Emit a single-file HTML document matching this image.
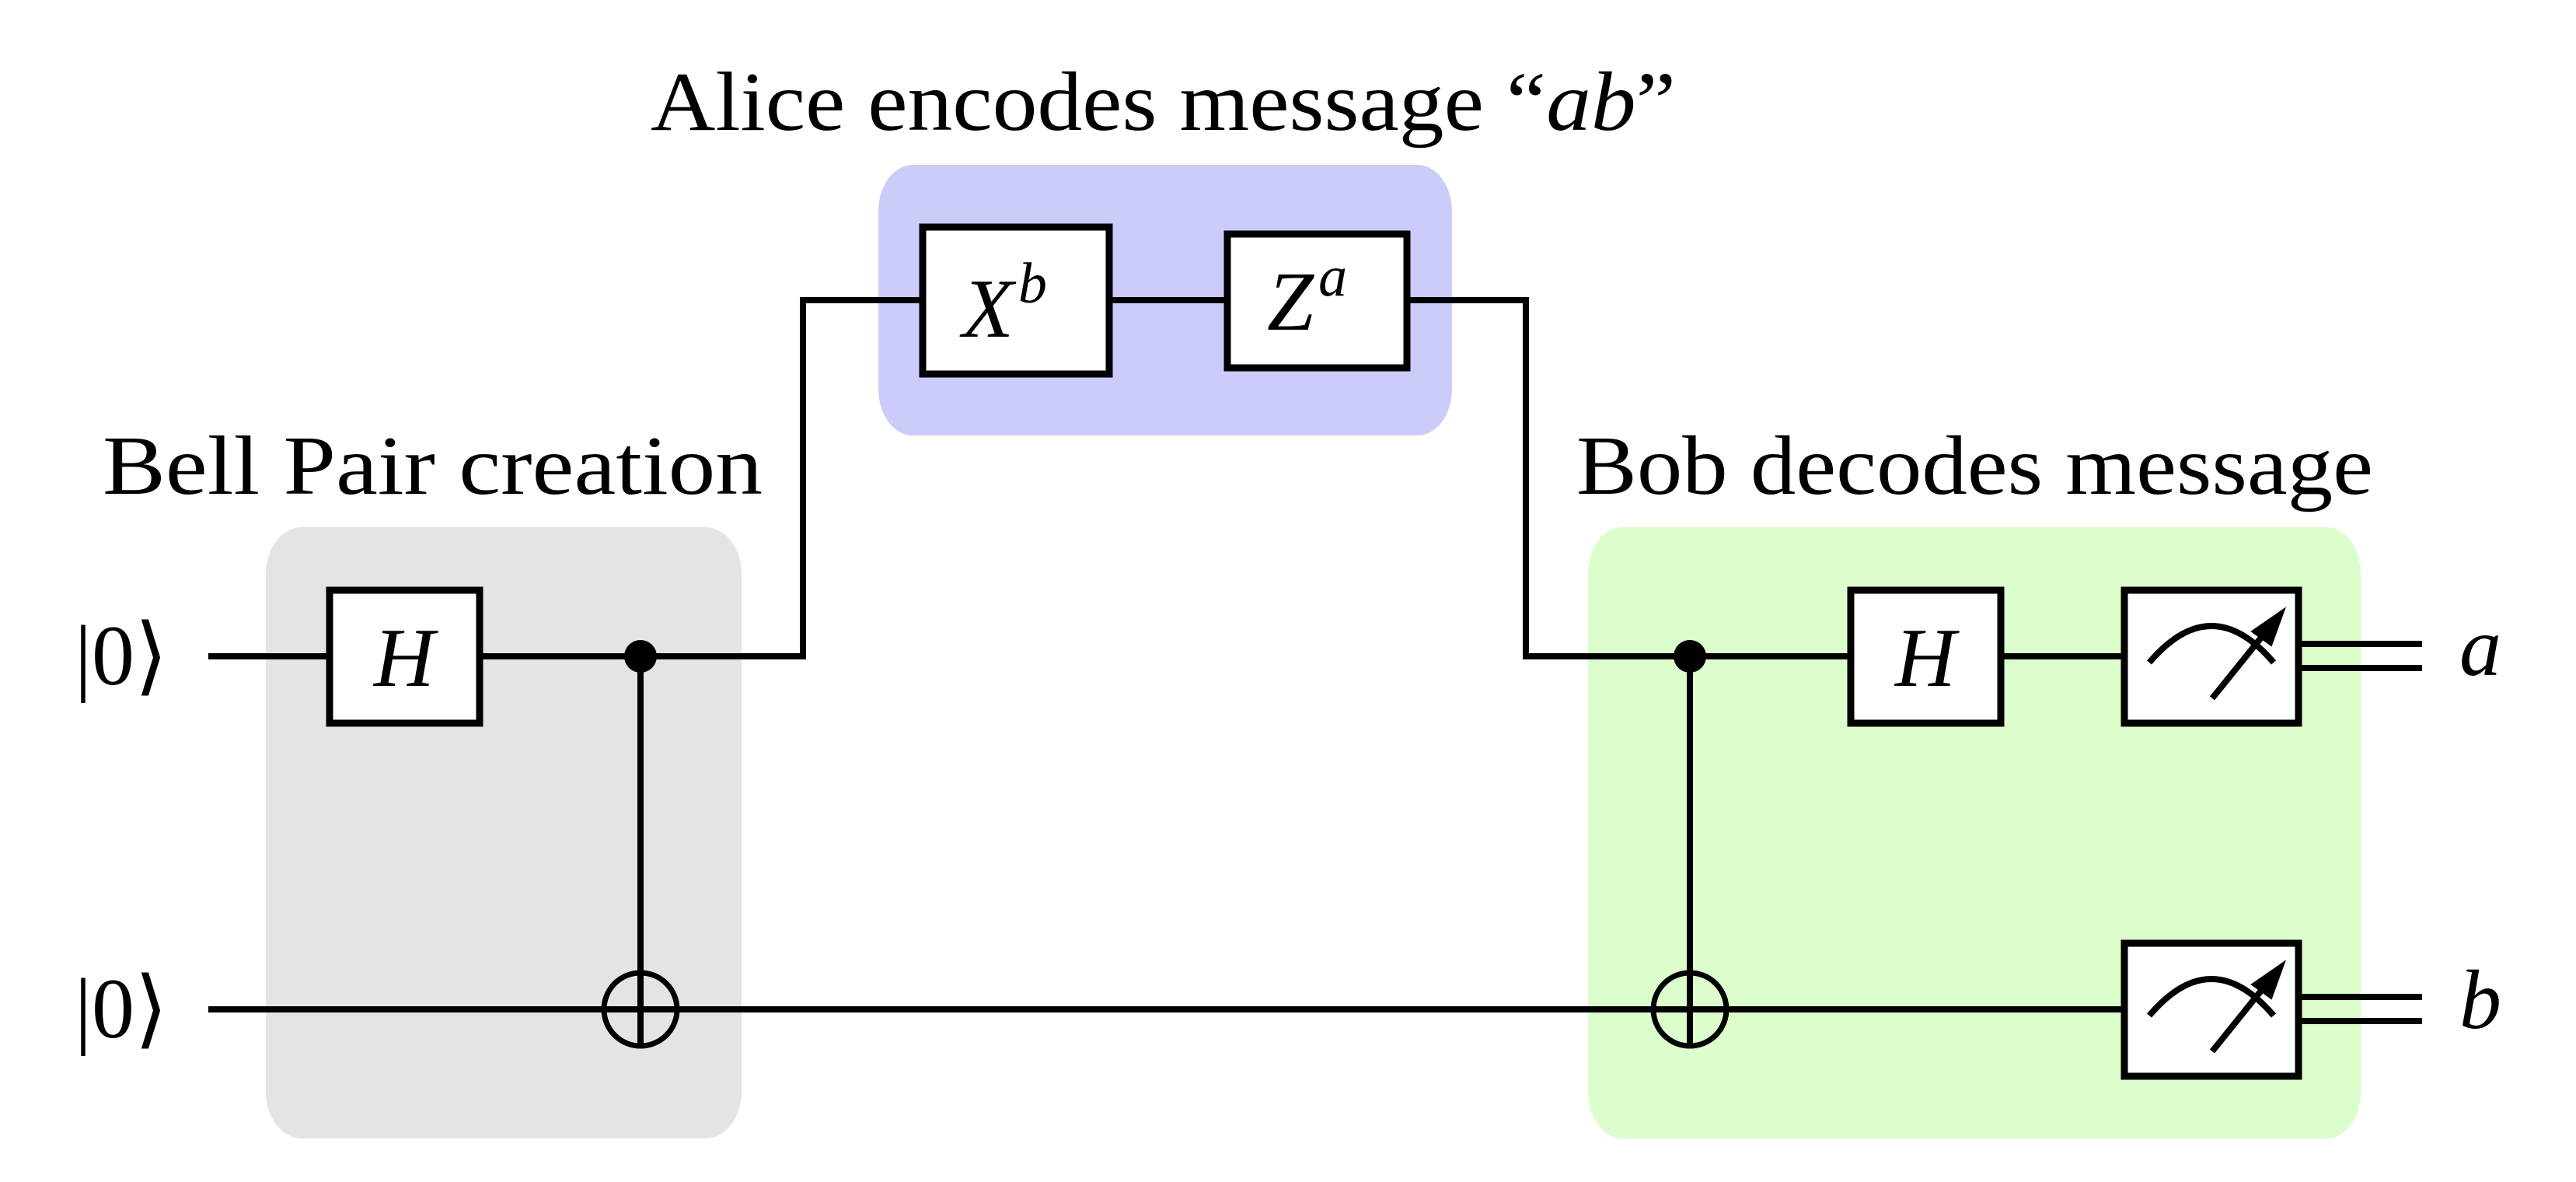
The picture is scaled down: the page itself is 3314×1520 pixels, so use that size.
<!DOCTYPE html>
<html><head><meta charset="utf-8"><style>
html,body{margin:0;padding:0;background:#fff}
svg{display:block}
text{font-family:"Liberation Serif",serif;fill:#000}
</style></head><body>
<svg width="3314" height="1520" viewBox="0 0 3314 1520" xmlns="http://www.w3.org/2000/svg">
<rect x="342" y="678" width="612" height="786" rx="46" ry="60" fill="#e4e4e4"/>
<rect x="1130" y="212" width="738" height="348" rx="44" ry="60" fill="#ccccfb"/>
<rect x="2043" y="678" width="994" height="786" rx="44" ry="60" fill="#dcfdcc"/>

<text x="837" y="167" font-size="108" textLength="1319" lengthAdjust="spacingAndGlyphs">Alice encodes message “<tspan font-style="italic">ab</tspan>”</text>
<text x="132" y="635" font-size="108" textLength="849" lengthAdjust="spacingAndGlyphs">Bell Pair creation</text>
<text x="2028" y="635" font-size="108" textLength="1025" lengthAdjust="spacingAndGlyphs">Bob decodes message</text>

<g stroke="#000" stroke-width="8" fill="none">
<path d="M268 844 H1033 V386 H1963 V844 H2733"/>
<path d="M268 1298 H2733"/>
<line x1="824" y1="844" x2="824" y2="1348"/>
<line x1="2174" y1="844" x2="2174" y2="1348"/>
<path d="M2957 828 H3116 M2957 859 H3116"/>
<path d="M2957 1282 H3116 M2957 1313 H3116"/>
</g>

<text x="96" y="880" font-size="110">|0⟩</text>
<text x="96" y="1334" font-size="110">|0⟩</text>

<g stroke="#000" stroke-width="9" fill="#fff">
<rect x="424" y="759" width="193" height="171"/>
<rect x="1187" y="292" width="240" height="189"/>
<rect x="1579" y="301" width="231" height="172"/>
<rect x="2381" y="759" width="193" height="171"/>
<rect x="2733" y="759" width="224" height="171"/>
<rect x="2733" y="1213" width="224" height="171"/>
</g>

<text x="520" y="882" font-size="108" font-style="italic" text-anchor="middle">H</text>
<text x="2477" y="882" font-size="108" font-style="italic" text-anchor="middle">H</text>
<text x="1238" y="433" font-size="108" font-style="italic">X<tspan dx="6" dy="-44" font-size="74">b</tspan></text>
<text x="1630" y="424" font-size="108" font-style="italic">Z<tspan dx="6" dy="-44" font-size="74">a</tspan></text>

<circle cx="824" cy="844" r="21" fill="#000"/>
<circle cx="2174" cy="844" r="21" fill="#000"/>
<circle cx="824" cy="1298" r="47" fill="none" stroke="#000" stroke-width="7"/>
<circle cx="2174" cy="1298" r="47" fill="none" stroke="#000" stroke-width="7"/>

<g stroke="#000" stroke-width="8" fill="none">
<path d="M2765 852 Q2845 758 2925 852"/>
<line x1="2846" y1="898" x2="2925" y2="800"/>
<path d="M2939 783 L2897 812 L2922 830 Z" fill="#000" stroke-width="2"/>
</g>
<g stroke="#000" stroke-width="8" fill="none" transform="translate(0,454)">
<path d="M2765 852 Q2845 758 2925 852"/>
<line x1="2846" y1="898" x2="2925" y2="800"/>
<path d="M2939 783 L2897 812 L2922 830 Z" fill="#000" stroke-width="2"/>
</g>

<text x="3164" y="868" font-size="108" font-style="italic">a</text>
<text x="3164" y="1322" font-size="108" font-style="italic">b</text>
</svg>
</body></html>
